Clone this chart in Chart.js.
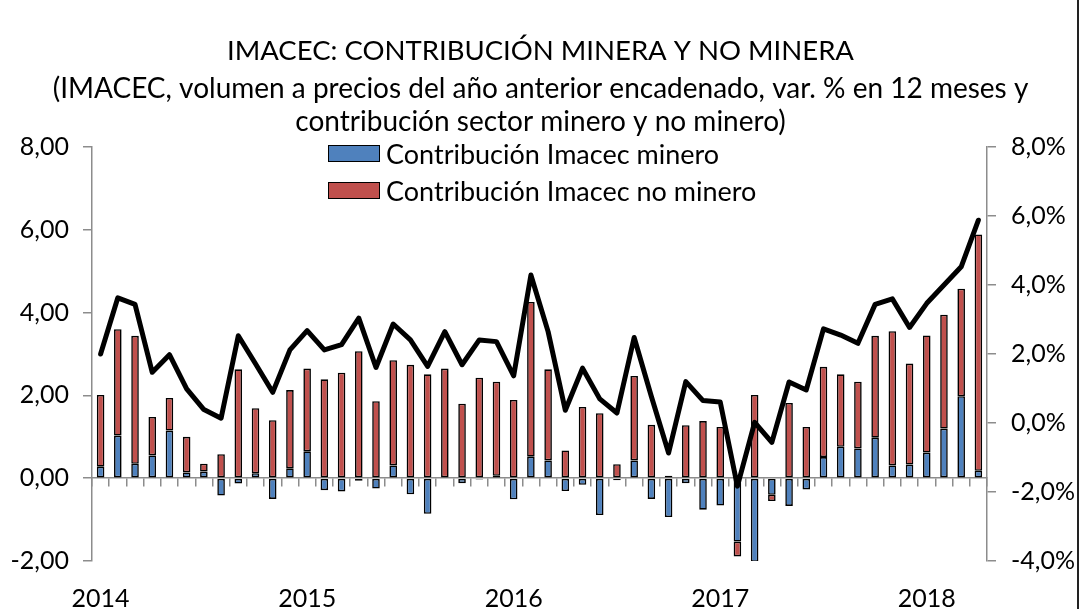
<!DOCTYPE html>
<html>
<head>
<meta charset="utf-8">
<script src="https://cdn.jsdelivr.net/npm/chart.js@4.4.1/dist/chart.umd.min.js"></script>
<style>
    body { margin: 0; background: #fff; }
    #wrap { position: relative; width: 1081px; height: 609px; overflow: hidden; }
    #frameLine { position: absolute; left: 1077px; top: 0; width: 2px; height: 609px; background: #222; }
    .legend { position: absolute; left: 328px; font-family: Lato, sans-serif; font-size: 27px; color: #000; }
    .legend div { height: 37px; display: flex; align-items: center; }
    .legend span.box { display: inline-block; width: 50px; height: 15px; border: 1.5px solid #000; margin-right: 6px; }
</style>
</head>
<body>
<div id="wrap">
    <canvas id="myChart" width="1081" height="609"></canvas>
    <div class="legend" id="legend" style="top:135px"></div>
    <div id="frameLine"></div>
</div>
<script>
// años del eje x (se muestran solo en enero)
const years = ['2014', '2015', '2016', '2017', '2018'];
const monthsInLastYear = 4;

// contribución minera (pp)
const mineroValues = [
    0.28, 1.03, 0.35, 0.55, 1.15, 0.14, 0.16, -0.42, -0.13, 0.12, -0.50, 0.24,
    0.65, -0.29, -0.32, -0.06, -0.25, 0.31, -0.39, -0.86, -0.02, -0.12, -0.03, 0.06,
    -0.51, 0.52, 0.43, -0.31, -0.16, -0.89, -0.05, 0.43, -0.50, -0.94, -0.12, -0.76,
    -0.66, -1.53, -2.02, -0.40, -0.67, -0.27, 0.51, 0.76, 0.72, 0.98, 0.31, 0.33,
    0.62, 1.20, 1.98, 0.18
];

// contribución no minera (pp)
const noMineroValues = [
    1.73, 2.57, 3.09, 0.93, 0.79, 0.86, 0.19, 0.58, 2.63, 1.57, 1.40, 1.89,
    2.00, 2.39, 2.55, 3.07, 1.86, 2.54, 2.74, 2.51, 2.65, 1.80, 2.43, 2.27,
    1.89, 3.74, 2.20, 0.67, 1.72, 1.57, 0.34, 2.04, 1.29, 0.06, 1.28, 1.38,
    1.24, -0.36, 2.01, -0.15, 1.82, 1.24, 2.18, 1.75, 1.61, 2.46, 3.24, 2.44,
    2.83, 2.75, 2.60, 5.71
];

// IMACEC var. % 12 meses (eje derecho)
const imacecValues = [
    2.00, 3.63, 3.44, 1.47, 1.98, 0.99, 0.39, 0.14, 2.53, 1.72, 0.89, 2.12,
    2.68, 2.12, 2.27, 3.04, 1.61, 2.87, 2.41, 1.64, 2.65, 1.69, 2.41, 2.36,
    1.37, 4.29, 2.65, 0.37, 1.59, 0.70, 0.29, 2.48, 0.77, -0.87, 1.20, 0.65,
    0.61, -1.83, 0.02, -0.56, 1.19, 0.96, 2.73, 2.55, 2.31, 3.44, 3.60, 2.77,
    3.47, 4.00, 4.53, 5.88
];

const seriesNames = ['Contribución Imacec minero', 'Contribución Imacec no minero'];
const seriesColors = ['#4F81BD', '#C0504D'];

const labels = [];
years.forEach((y, i) => {
    const n = i === years.length - 1 ? monthsInLastYear : 12;
    for (let m = 1; m <= n; m++) labels.push(y + '-' + String(m).padStart(2, '0'));
});

// leyenda en html, sobre el área del gráfico
const legendEl = document.getElementById('legend');
seriesNames.forEach((name, i) => {
    const row = document.createElement('div');
    const box = document.createElement('span');
    box.className = 'box';
    box.style.background = seriesColors[i];
    row.appendChild(box);
    row.appendChild(document.createTextNode(name));
    legendEl.appendChild(row);
});

const axisGray = '#8c8c8c';
const tickFont = { family: 'Lato', size: 25 };

new Chart(document.getElementById('myChart'), {
    type: 'bar',
    data: {
        labels: labels,
        datasets: [
            {
                type: 'line',
                label: 'IMACEC',
                data: imacecValues,
                yAxisID: 'y2',
                borderColor: '#000',
                borderWidth: 5,
                pointRadius: 0,
                tension: 0,
                borderJoinStyle: 'round',
                borderCapStyle: 'round',
                order: 0
            },
            {
                label: seriesNames[0],
                data: mineroValues,
                backgroundColor: seriesColors[0],
                borderColor: '#000',
                borderWidth: 1.6,
                yAxisID: 'y',
                order: 1
            },
            {
                label: seriesNames[1],
                data: noMineroValues,
                backgroundColor: seriesColors[1],
                borderColor: '#000',
                borderWidth: 1.6,
                yAxisID: 'y',
                order: 1
            }
        ]
    },
    options: {
        responsive: false,
        animation: false,
        layout: { padding: { left: 0, right: 0, top: 0, bottom: 0 } },
        datasets: {
            bar: { barPercentage: 0.44, categoryPercentage: 1, borderSkipped: false }
        },
        scales: {
            x: {
                stacked: true,
                position: { y: 0 },
                offset: true,
                border: { display: true, color: axisGray, width: 1.5 },
                grid: { offset: true, drawOnChartArea: false, drawTicks: true, tickLength: 8, color: axisGray, lineWidth: 1.5 },
                ticks: { display: false }
            },
            xLabels: {
                type: 'category',
                position: 'bottom',
                offset: true,
                border: { display: false },
                grid: { display: false, drawTicks: false },
                afterFit: s => { s.height = 48; },
                ticks: {
                    autoSkip: false,
                    maxRotation: 0,
                    padding: 23,
                    color: '#000',
                    font: tickFont,
                    callback: function (val, i) {
                        const l = this.getLabelForValue(val);
                        return l.endsWith('-01') ? l.slice(0, 4) : '';
                    }
                }
            },
            y: {
                stacked: true,
                position: 'left',
                min: -2,
                max: 8,
                border: { display: true, color: axisGray, width: 1.5 },
                grid: { drawOnChartArea: false, tickLength: 9, color: axisGray, lineWidth: 1.5 },
                afterFit: s => { s.width = 92; },
                ticks: {
                    stepSize: 2,
                    padding: 14,
                    color: '#000',
                    font: tickFont,
                    callback: v => v.toFixed(2).replace('.', ',')
                }
            },
            y2: {
                position: 'right',
                min: -4,
                max: 8,
                border: { display: true, color: axisGray, width: 1.5 },
                grid: { drawOnChartArea: false, tickLength: 9, color: axisGray, lineWidth: 1.5 },
                afterFit: s => { s.width = 94; },
                ticks: {
                    stepSize: 2,
                    padding: 15,
                    color: '#000',
                    font: tickFont,
                    callback: v => v.toFixed(1).replace('.', ',') + '%'
                }
            }
        },
        plugins: {
            legend: { display: false },
            tooltip: { enabled: false },
            title: {
                display: true,
                text: 'IMACEC: CONTRIBUCIÓN MINERA Y NO MINERA',
                color: '#000',
                font: { family: 'Lato', size: 27.5, weight: 'normal', lineHeight: 1.2 },
                padding: { top: 34.5, bottom: 2 }
            },
            subtitle: {
                display: true,
                text: ['(IMACEC, volumen a precios del año anterior encadenado, var. % en 12 meses y',
                       'contribución sector minero y no minero)'],
                color: '#000',
                font: { family: 'Lato', size: 28, weight: 'normal', lineHeight: 1.18 },
                padding: { top: 3, bottom: 8.5 }
            }
        }
    }
});
</script>
</body>
</html>
